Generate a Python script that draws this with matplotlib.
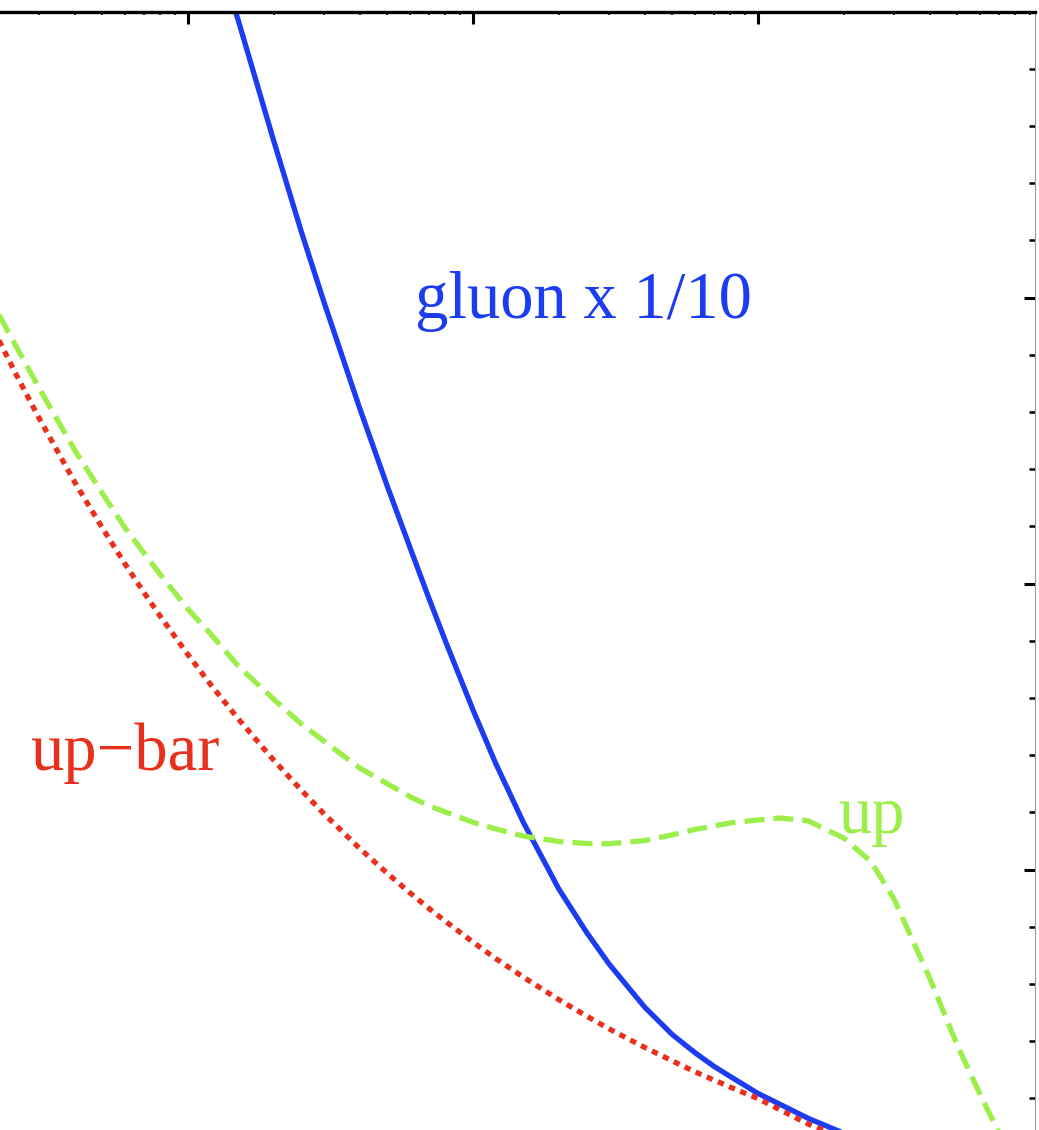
import matplotlib
matplotlib.use("Agg")
import matplotlib.pyplot as plt
from matplotlib.ticker import LogLocator, MultipleLocator, NullFormatter
import numpy as np

# momentum fraction x (log axis) and x*f(x) values
x_up = [2e-4, 2.5e-4, 3e-4, 4e-4, 5e-4, 6e-4, 7e-4, 8e-4, 1e-3, 1.2e-3, 1.5e-3,
        2e-3, 2.5e-3, 3e-3, 4e-3, 5e-3, 6e-3, 7e-3, 8e-3, 0.01, 0.012, 0.015,
        0.02, 0.025, 0.03, 0.04, 0.05, 0.06, 0.07, 0.08, 0.1, 0.12, 0.15,
        0.2, 0.25, 0.3, 0.4, 0.5, 0.6, 0.7, 0.8]
up = [3.005, 2.827, 2.684, 2.467, 2.316, 2.196, 2.107, 2.031, 1.910, 1.824, 1.712,
      1.595, 1.509, 1.449, 1.355, 1.300, 1.255, 1.223, 1.201, 1.165, 1.142, 1.117,
      1.098, 1.091, 1.090, 1.101, 1.121, 1.140, 1.152, 1.163, 1.173, 1.180, 1.170,
      1.110, 1.026, 0.897, 0.621, 0.386, 0.216, 0.079, 0.0]

x_ubar = [2e-4, 2.5e-4, 3e-4, 4e-4, 5e-4, 6e-4, 7e-4, 8e-4, 1e-3, 1.2e-3, 1.5e-3,
          2e-3, 2.5e-3, 3e-3, 4e-3, 5e-3, 6e-3, 7e-3, 8e-3, 0.01, 0.012, 0.015,
          0.02, 0.025, 0.03, 0.04, 0.05, 0.06, 0.07, 0.08, 0.1, 0.12, 0.15,
          0.2, 0.3]
ubar = [2.921, 2.729, 2.579, 2.355, 2.195, 2.070, 1.969, 1.885, 1.751, 1.647, 1.527,
        1.382, 1.277, 1.195, 1.074, 0.987, 0.919, 0.864, 0.819, 0.746, 0.689, 0.624,
        0.545, 0.488, 0.443, 0.378, 0.331, 0.293, 0.264, 0.239, 0.199, 0.159, 0.110,
        0.061, 0.03]

x_glu = [1.2e-3, 1.5e-3, 2e-3, 2.5e-3, 3e-3, 4e-3, 5e-3, 6e-3, 7e-3, 8e-3, 0.01,
         0.012, 0.015, 0.02, 0.025, 0.03, 0.04, 0.05, 0.06, 0.07, 0.08, 0.1,
         0.12, 0.15, 0.2, 0.25]
gluon = [4.271, 3.970, 3.547, 3.229, 2.984, 2.614, 2.341, 2.128, 1.949, 1.799, 1.558,
         1.372, 1.166, 0.932, 0.781, 0.670, 0.519, 0.423, 0.360, 0.312, 0.276, 0.217,
         0.178, 0.130, 0.078, 0.050]

blue = "#1c3cf2"
red = "#e8301c"
green = "#9cee4a"

fig = plt.figure(figsize=(10.39, 11.30), dpi=100)
ax = fig.add_axes([0, 0, 1035 / 1039, (1130 - 11.5) / 1130])

ax.plot(x_glu, gluon, color=blue, lw=3.8, solid_joinstyle="round")
ax.plot(x_up, up, color=green, lw=3.8, dashes=(3.8, 1.7))
ax.plot(x_ubar, ubar, color=red, lw=3.8, dashes=(1.2, 1.1))

ax.set_xscale("log")
ax.set_xlim(10 ** -3.6596, 10 ** -0.0281)
ax.set_ylim(4 - (1130 - 11.5) / 286, 4)

# labels
font = dict(family=["Liberation Serif", "DejaVu Serif"], size=48)
ax.text(6.26e-3, 2.928, "gluon x 1/10", color=blue, va="baseline", ha="left", **font)
ax.text(2.79e-4, 1.348, "up\u2212bar", color=red, va="baseline", ha="left", **font)
ax.text(0.191, 1.128, "up", color=green, va="baseline", ha="left", **font)

# frame: only top and right visible
ax.spines["left"].set_visible(False)
ax.spines["bottom"].set_visible(False)
ax.spines["top"].set_linewidth(2.4)
ax.spines["right"].set_linewidth(0.8)
ax.spines["right"].set_color("#999999")

ax.xaxis.set_major_locator(LogLocator(base=10))
ax.xaxis.set_minor_locator(LogLocator(base=10, subs=np.arange(2, 10)))
ax.xaxis.set_minor_formatter(NullFormatter())
ax.yaxis.set_major_locator(MultipleLocator(1))
ax.yaxis.set_minor_locator(MultipleLocator(0.2))

ax.tick_params(axis="x", which="both", direction="in", top=True, bottom=False,
               labeltop=False, labelbottom=False)
ax.tick_params(axis="y", which="both", direction="in", right=True, left=False,
               labelright=False, labelleft=False)
ax.tick_params(axis="x", which="major", length=8.5, width=2.2)
ax.tick_params(axis="x", which="minor", length=2.5, width=1.2)
ax.tick_params(axis="y", which="major", length=8, width=2.2)
ax.tick_params(axis="y", which="minor", length=4.3, width=1.8)

fig.savefig("out.png", dpi=100)
